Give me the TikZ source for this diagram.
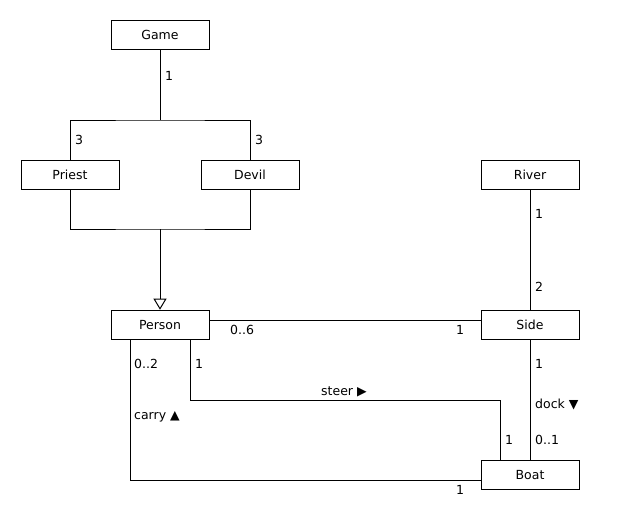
\documentclass[tikz,border=0pt]{standalone}
\usepackage{fontspec}
\setmainfont{DejaVu Sans}
\usetikzlibrary{arrows.meta}
\begin{document}
\begin{tikzpicture}[x=1pt,y=-1pt,
  cls/.style={draw,line width=1pt,minimum width=98pt,minimum height=29pt,inner sep=0pt,font=\fontsize{12.5}{14}\selectfont},
  lbl/.style={anchor=base west,inner sep=0pt,font=\fontsize{12.5}{14}\selectfont},
  conn/.style={line width=1pt}]
\useasboundingbox (0,0) rectangle (620,530);
\node[cls] (game) at (160,34.7) {Game};
\node[cls] (priest) at (70,174.7) {Priest};
\node[cls] (devil) at (250,174.7) {Devil};
\node[cls] (river) at (530,174.7) {River};
\node[cls] (person) at (160,324.7) {Person};
\node[cls] (side) at (530,324.7) {Side};
\node[cls] (boat) at (530,474.8) {Boat};
\coordinate (j1) at (160,120);
\coordinate (j2) at (160,229);
\coordinate (s1) at (500,400);
% composition-like association Game - Priest/Devil
\draw[conn] (game.south) -- (j1);
\draw[conn] (priest.north) |- (j1) -| (devil.north);
% generalization
\draw[conn] (priest.south) |- (j2) -| (devil.south);
\draw[conn,-{Triangle[open,length=11pt,width=13pt]}] (j2) -- (person.north);
% associations
\draw[conn] ([yshift=4.5pt]person.east) -- ([yshift=4.5pt]side.west);
\draw[conn] (river.south) -- (side.north);
\draw[conn] (side.south) -- (boat.north);
\draw[conn] ([xshift=20pt]person.south west) |- ([yshift=-5.5pt]boat.west);
\draw[conn] ([xshift=-19pt]person.south east) |- (s1) -- ([xshift=-30pt]boat.north);
% labels
\node[lbl] (l1) at (165,80) {1};
\node[lbl] (l2) at (75,144.3) {3};
\node[lbl] (l3) at (255,144.3) {3};
\node[lbl] (l4) at (535,218.3) {1};
\node[lbl] (l5) at (535,291.7) {2};
\node[lbl] (l6) at (230,334) {0..6};
\node[lbl] (l7) at (456,334) {1};
\node[lbl] (l8) at (134,368) {0..2};
\node[lbl] (l9) at (195,368) {1};
\node[lbl] (l10) at (321,395.7) {steer ▶};
\node[lbl] (l11) at (134,419) {carry ▲};
\node[lbl] (l12) at (535,368) {1};
\node[lbl] (l13) at (535,408) {dock ▼};
\node[lbl] (l14) at (535,444) {0..1};
\node[lbl] (l15) at (505,444) {1};
\node[lbl] (l16) at (456,494) {1};
\end{tikzpicture}
\end{document}
